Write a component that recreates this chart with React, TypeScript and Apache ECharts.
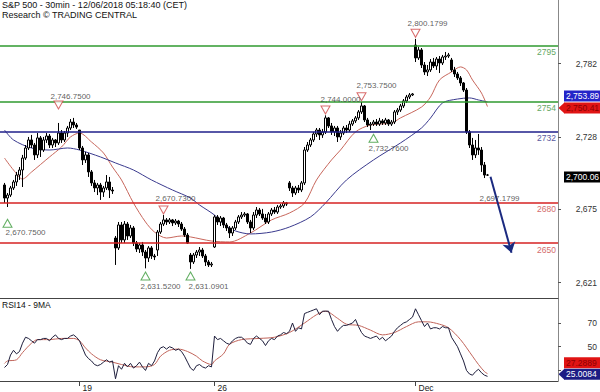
import React, { useEffect, useRef } from 'react';
import * as echarts from 'echarts';

const FONT = '"Liberation Sans", Arial, sans-serif';

// x slots (30-min bars); date ticks sit on the first bar of the day
const SLOTS = 186;
const FIRST_BAR = 1;
const dateTickIndex = [26, 71, 138];
const dateTickLabels = ['19', '26', 'Dec'];

const priceTicks = [2621, 2675, 2728, 2782];
const rsiTicks = [30, 50, 70];
const rsiLabelTicks = [50, 70];

// [open, close, low, high] — one row per 30-min bar, starting at slot FIRST_BAR
const candles = [
  [2692.8, 2683.2, 2679.6, 2694.3], [2683.2, 2685.4, 2676.6, 2686.9], [2685.4, 2690.6, 2684.0, 2692.1],
  [2690.6, 2695.0, 2689.1, 2696.5], [2695.0, 2700.1, 2692.1, 2702.4], [2700.1, 2703.8, 2696.5, 2706.0],
  [2703.8, 2712.6, 2691.3, 2714.9], [2712.6, 2720.0, 2711.2, 2722.2], [2720.0, 2725.9, 2718.5, 2728.1],
  [2725.9, 2722.2, 2720.0, 2729.6], [2722.2, 2714.9, 2711.2, 2723.7], [2714.9, 2727.4, 2712.6, 2731.0],
  [2727.4, 2718.5, 2713.4, 2728.8], [2718.5, 2725.9, 2717.1, 2728.1], [2725.9, 2728.8, 2723.7, 2731.0],
  [2728.8, 2722.2, 2720.0, 2730.3], [2722.2, 2725.9, 2720.0, 2727.4], [2725.9, 2723.7, 2720.7, 2726.6],
  [2723.7, 2731.0, 2722.2, 2738.4], [2731.0, 2725.9, 2723.7, 2733.2], [2725.9, 2731.0, 2724.4, 2732.5],
  [2731.0, 2734.7, 2728.1, 2736.2], [2734.7, 2739.1, 2733.2, 2741.3], [2739.1, 2736.9, 2734.7, 2742.1],
  [2736.9, 2735.4, 2734.0, 2738.4], [2733.2, 2720.0, 2718.5, 2733.2], [2720.0, 2711.2, 2707.5, 2721.5],
  [2711.2, 2714.9, 2709.0, 2717.1], [2714.9, 2702.4, 2698.7, 2716.3], [2702.4, 2694.3, 2692.1, 2703.8],
  [2694.3, 2690.6, 2687.6, 2696.5], [2690.6, 2692.8, 2685.4, 2694.3], [2692.8, 2687.6, 2681.8, 2694.3],
  [2687.6, 2690.6, 2684.0, 2692.1], [2690.6, 2695.0, 2689.1, 2700.1], [2695.0, 2689.1, 2683.2, 2698.7],
  [2689.1, 2688.4, 2686.2, 2691.3], [2653.8, 2646.5, 2634.0, 2655.3], [2646.5, 2663.4, 2645.0, 2665.6],
  [2663.4, 2652.4, 2650.1, 2665.6], [2652.4, 2664.1, 2650.1, 2666.3], [2664.1, 2655.3, 2652.4, 2665.6],
  [2655.3, 2661.2, 2653.8, 2663.4], [2661.2, 2650.1, 2647.9, 2662.6], [2650.1, 2645.7, 2643.5, 2651.6],
  [2645.7, 2648.7, 2642.8, 2650.1], [2648.7, 2643.5, 2640.6, 2650.9], [2643.5, 2639.1, 2631.5, 2645.0],
  [2639.1, 2646.5, 2636.2, 2647.9], [2646.5, 2640.6, 2638.4, 2647.9], [2640.6, 2639.9, 2637.6, 2642.1],
  [2645.0, 2658.2, 2640.6, 2659.7], [2658.2, 2664.1, 2656.8, 2665.6], [2664.1, 2667.1, 2662.6, 2670.7],
  [2667.1, 2665.6, 2663.4, 2668.5], [2665.6, 2667.1, 2664.1, 2668.5], [2667.1, 2664.9, 2662.6, 2667.8],
  [2664.9, 2666.3, 2663.4, 2667.8], [2666.3, 2664.1, 2661.9, 2667.1], [2664.1, 2660.4, 2659.0, 2665.6],
  [2660.4, 2656.0, 2654.6, 2661.9], [2656.0, 2650.1, 2649.4, 2657.5], [2641.3, 2636.2, 2631.1, 2642.8],
  [2636.2, 2641.3, 2634.7, 2642.8], [2641.3, 2643.5, 2639.1, 2645.0], [2643.5, 2645.0, 2640.6, 2647.2],
  [2645.0, 2640.6, 2639.1, 2646.5], [2640.6, 2636.2, 2633.2, 2642.1], [2636.2, 2634.0, 2632.5, 2637.6],
  [2634.0, 2634.7, 2632.5, 2636.2], [2647.2, 2669.3, 2646.5, 2670.7], [2669.3, 2665.6, 2663.4, 2670.7],
  [2665.6, 2668.5, 2662.6, 2670.0], [2668.5, 2663.4, 2661.2, 2669.3], [2663.4, 2661.2, 2659.0, 2664.9],
  [2661.2, 2657.5, 2653.8, 2662.6], [2657.5, 2661.2, 2655.3, 2662.6], [2661.2, 2665.6, 2659.7, 2667.1],
  [2665.6, 2669.3, 2664.1, 2670.7], [2669.3, 2670.7, 2667.8, 2672.9], [2670.7, 2671.5, 2669.3, 2672.9],
  [2671.5, 2665.6, 2664.1, 2672.2], [2665.6, 2661.2, 2657.5, 2667.1], [2661.2, 2670.7, 2659.7, 2672.9],
  [2670.7, 2674.4, 2668.5, 2676.6], [2674.4, 2671.5, 2670.0, 2675.9], [2671.5, 2668.5, 2667.1, 2675.2],
  [2668.5, 2665.6, 2664.1, 2671.5], [2665.6, 2671.5, 2664.1, 2672.9], [2671.5, 2674.4, 2670.0, 2675.9],
  [2674.4, 2672.9, 2671.5, 2676.6], [2672.9, 2676.6, 2671.5, 2678.1], [2676.6, 2677.4, 2675.2, 2678.8],
  [2677.4, 2679.6, 2675.9, 2681.0], [2679.6, 2678.8, 2677.4, 2680.3], [2694.3, 2690.6, 2688.4, 2695.7],
  [2690.6, 2686.9, 2684.0, 2692.1], [2686.9, 2690.6, 2685.4, 2692.1], [2690.6, 2689.1, 2686.9, 2692.8],
  [2689.1, 2694.3, 2687.6, 2695.7], [2694.3, 2718.5, 2692.8, 2720.7], [2718.5, 2722.2, 2717.1, 2724.4],
  [2722.2, 2725.9, 2720.7, 2727.4], [2725.9, 2730.3, 2724.4, 2731.8], [2730.3, 2733.2, 2728.1, 2734.7],
  [2733.2, 2729.6, 2725.9, 2734.7], [2729.6, 2731.8, 2727.4, 2734.0], [2731.8, 2742.1, 2730.3, 2744.0],
  [2742.1, 2736.2, 2734.7, 2742.8], [2736.2, 2731.8, 2729.6, 2738.4], [2731.8, 2734.7, 2728.8, 2736.2],
  [2734.7, 2728.1, 2724.4, 2736.2], [2728.1, 2731.0, 2725.9, 2733.2], [2731.0, 2734.7, 2729.6, 2736.2],
  [2734.7, 2733.2, 2731.0, 2736.9], [2733.2, 2737.6, 2731.8, 2739.9], [2737.6, 2739.9, 2736.2, 2741.3],
  [2739.9, 2742.1, 2738.4, 2743.5], [2742.1, 2746.5, 2740.6, 2747.9], [2746.5, 2750.9, 2745.0, 2753.8],
  [2750.9, 2740.6, 2739.1, 2751.6], [2740.6, 2736.9, 2735.4, 2742.1], [2736.9, 2737.6, 2733.2, 2739.1],
  [2737.6, 2739.1, 2736.2, 2740.6], [2739.1, 2737.6, 2736.2, 2741.3], [2737.6, 2739.9, 2736.2, 2742.1],
  [2739.9, 2738.4, 2736.9, 2741.3], [2738.4, 2740.6, 2736.9, 2742.1], [2740.6, 2737.6, 2736.2, 2741.3],
  [2737.6, 2739.1, 2736.2, 2740.6], [2739.1, 2746.5, 2737.6, 2747.9], [2746.5, 2747.9, 2744.3, 2749.4],
  [2747.9, 2750.9, 2746.5, 2752.4], [2750.9, 2754.6, 2749.4, 2756.0], [2754.6, 2757.5, 2753.1, 2759.0],
  [2757.5, 2759.0, 2756.0, 2760.4], [2759.0, 2759.7, 2758.2, 2760.4], [2795.7, 2786.2, 2783.2, 2800.2],
  [2786.2, 2792.1, 2784.7, 2794.3], [2792.1, 2781.0, 2778.8, 2793.5], [2781.0, 2775.9, 2773.7, 2783.2],
  [2775.9, 2777.4, 2772.9, 2781.0], [2777.4, 2783.2, 2775.9, 2785.4], [2783.2, 2780.3, 2778.8, 2786.2],
  [2780.3, 2785.4, 2777.4, 2786.9], [2785.4, 2782.5, 2775.1, 2787.6], [2782.5, 2786.9, 2781.0, 2788.4],
  [2786.9, 2787.6, 2784.7, 2790.6], [2787.6, 2788.4, 2786.2, 2789.9], [2784.7, 2777.4, 2775.9, 2786.2],
  [2777.4, 2774.4, 2772.2, 2779.6], [2774.4, 2771.5, 2770.0, 2775.9], [2771.5, 2767.8, 2765.6, 2772.9],
  [2767.8, 2762.6, 2761.2, 2768.5], [2762.6, 2731.8, 2730.3, 2764.1], [2731.8, 2722.2, 2720.0, 2733.2],
  [2722.2, 2714.9, 2711.2, 2727.4], [2714.9, 2720.0, 2712.6, 2725.9], [2720.0, 2718.5, 2714.9, 2730.3],
  [2718.5, 2707.5, 2702.4, 2720.7], [2707.5, 2700.1, 2697.9, 2709.7], [2700.1, 2700.06, 2699.4, 2700.9],
];

// moving averages: [slot, value]
const redMA = [
  [1, 2712.6], [4, 2703.8], [7, 2697.2], [10, 2702.3], [16, 2713.4], [20, 2720.7], [23, 2728.1], [26, 2731.0],
  [30, 2724.4], [34, 2716.3], [37, 2706.0], [40, 2696.5], [44, 2679.5], [48, 2665.6], [51, 2658.2], [55, 2653.8],
  [60, 2655.3], [63, 2654.6], [70, 2651.6], [76, 2650.9], [83, 2657.5], [90, 2667.1], [96, 2672.2], [101, 2679.5],
  [105, 2696.5], [110, 2711.2], [113, 2718.5], [118, 2731.8], [123, 2736.9], [130, 2738.4], [133, 2742.1],
  [140, 2750.1], [143, 2757.5], [146, 2770.0], [150, 2775.9], [153, 2779.6], [155, 2777.4], [157, 2770.0],
  [160, 2760.4], [162, 2750.41],
];
const blueMA = [
  [1, 2733.2], [4, 2725.9], [10, 2720.0], [16, 2718.5], [22, 2720.0], [26, 2718.5], [33, 2713.4], [38, 2709.0],
  [44, 2703.8], [50, 2696.5], [57, 2689.1], [63, 2683.2], [66, 2678.1], [71, 2670.7], [74, 2664.1], [78, 2659.0],
  [83, 2656.8], [90, 2658.2], [96, 2661.9], [103, 2669.3], [108, 2679.5], [115, 2696.5], [124, 2711.2],
  [133, 2723.7], [140, 2734.7], [143, 2742.0], [147, 2753.1], [152, 2756.0], [156, 2756.8], [159, 2755.3],
  [162, 2753.89],
];

// RSI(14), one value per bar starting at slot FIRST_BAR
const rsi = [
  32.5, 35, 43, 47, 44, 46, 53, 58, 57, 55, 53, 56, 56, 57, 57, 55, 58, 60, 57, 56,
  57, 57, 59, 60, 58, 55, 49, 43, 40, 38, 35, 34, 35, 37, 39, 37, 38, 23, 34, 31,
  36, 33, 36, 32, 34, 37, 33, 30, 36, 34, 38, 45, 49, 50, 48, 50, 49, 47, 48, 46,
  42, 37, 32, 30, 34, 35, 33, 32, 34, 33, 59, 56, 57, 55, 53, 52, 55, 57, 58, 58,
  56, 53, 52, 57, 59, 57, 55, 51, 55, 57, 56, 59, 60, 62, 61, 63, 70, 63, 66, 65,
  78, 79, 80, 81, 82, 77, 80, 80, 80, 73, 67, 63, 66, 68, 68, 69, 70, 73, 67, 62,
  59, 58, 57, 58, 59, 56, 58, 55, 57, 59, 63, 66, 68, 70, 71, 73, 75, 82, 77, 72,
  67, 70, 65, 66, 66, 65, 67, 66, 66, 58, 54, 50, 44, 38, 30, 27, 26, 29, 31, 28,
  26, 25.0084,
];
// 9-period MA of the RSI: [slot, value]
const rsiMA = [
  [1, 36], [2, 38], [5, 39], [7, 45], [10, 53], [12, 56], [16, 56], [20, 57], [24, 57], [26, 55], [28, 49],
  [30, 44], [33, 39], [37, 37], [40, 35], [44, 33], [48, 33], [51, 35], [53, 42], [56, 47], [59, 48], [62, 46],
  [65, 42], [67, 38], [70, 35], [71, 38], [74, 44], [76, 52], [80, 56], [86, 57], [91, 58], [96, 62], [101, 70],
  [105, 77], [108, 80], [112, 74], [115, 69], [119, 68], [123, 64], [127, 60], [131, 62], [135, 67], [139, 71],
  [142, 71], [146, 69], [149, 66], [153, 56], [157, 42], [159, 35], [161, 29], [162, 27.2889],
];

// support / resistance levels
const levelValues = [2795, 2754, 2732, 2680, 2650];
const levelKinds = ['res', 'res', 'pivot', 'sup', 'sup'];

// swing markers [slot, price]
const swingHighs = [[19, 2751.6], [54, 2674.4], [108, 2747.9], [120, 2757.7], [138, 2804.3]];
const swingLows = [[2, 2664.6], [48, 2625.9], [63, 2625.9], [124, 2727.1]];
const swingTexts = ['2,670.7500', '2,746.7500', '2,670.7300', '2,631.5200', '2,631.0901', '2,744.0000', '2,753.7500', '2,732.7600', '2,800.1799', '2,697.1799'];
const swingTextPos = [[8, 2657.5], [23, 2758.2], [58, 2682.5], [53, 2618.5], [69, 2618.5], [113, 2755.3], [125, 2765.6], [129, 2719.3], [142, 2811.7], [166, 2683.0]];

// projected move
const projection = [[163, 2698.9], [170, 2643]];

// last values shown on the right
const lastBlueMA = 2753.89;
const lastRedMA = 2750.41;
const lastClose = 2700.06;
const lastRsiMA = 27.2889;
const lastRsi = 25.0084;

const levelColor: Record<string, string> = { res: '#2f9a2f', pivot: '#1f1f8a', sup: '#d62222' };
const levelLabelColor: Record<string, string> = { res: '#64a864', pivot: '#5a5aa0', sup: '#d46c6c' };

export default function App() {
  const ref = useRef<HTMLDivElement>(null);
  useEffect(() => {
    if (!ref.current) return;
    const chart = echarts.init(ref.current, undefined, { renderer: 'svg' });
    const categories = Array.from({ length: SLOTS }, (_, i) => 'b' + i);
    const isDateTick = (i: number) => dateTickIndex.includes(i);

    const option: any = {
      animation: false,
      backgroundColor: '#ffffff',
      textStyle: { fontFamily: FONT },
      title: [
        {
          text: 'S&P 500 - 30min - 12/06/2018 05:18:40 (CET)',
          subtext: 'Research © TRADING CENTRAL',
          left: 2, top: 0, padding: 0, itemGap: 1,
          textStyle: { fontSize: 9, fontWeight: 'normal', color: '#111', fontFamily: FONT },
          subtextStyle: { fontSize: 9, color: '#111', fontFamily: FONT },
        },
        {
          text: 'RSI14 - 9MA', left: 2, top: 300, padding: 0,
          textStyle: { fontSize: 8.5, fontWeight: 'normal', color: '#111', fontFamily: FONT },
        },
      ],
      grid: [
        { left: 0, right: 42, top: 0, height: 298 },
        { left: 0, right: 42, top: 298, height: 84 },
      ],
      xAxis: [
        {
          type: 'category', gridIndex: 0, data: categories, boundaryGap: true,
          axisLine: { show: true, lineStyle: { color: '#444', width: 1 } },
          axisTick: { show: false }, axisLabel: { show: false }, splitLine: { show: false },
        },
        {
          type: 'category', gridIndex: 1, data: categories, boundaryGap: true,
          axisLine: { show: true, lineStyle: { color: '#444', width: 1 } },
          axisTick: { show: true, interval: (i: number) => isDateTick(i), alignWithLabel: true, length: 5, lineStyle: { color: '#444' } },
          axisLabel: {
            interval: (i: number) => isDateTick(i),
            formatter: (_v: string, i: number) => dateTickLabels[dateTickIndex.indexOf(i)] ?? '',
            align: 'left', margin: 2, padding: [0, 0, 0, 3], fontSize: 8.5, color: '#222', fontFamily: FONT,
          },
          splitLine: { show: false },
        },
      ],
      yAxis: [
        {
          type: 'value', gridIndex: 0, position: 'right', min: 2609.7, max: 2828.8, scale: true,
          axisLine: { show: true, lineStyle: { color: '#888' } },
          axisTick: { show: true, length: 3, customValues: priceTicks, lineStyle: { color: '#555' } },
          axisLabel: {
            customValues: priceTicks, formatter: (v: number) => v.toLocaleString('en-US'),
            align: 'right', margin: 39, fontSize: 8.5, color: '#333', fontFamily: FONT,
          },
          splitLine: { show: false },
        },
        {
          type: 'value', gridIndex: 1, position: 'right', min: 21.1, max: 91.1,
          axisLine: { show: true, lineStyle: { color: '#888' } },
          axisTick: { show: true, length: 3, customValues: rsiTicks, lineStyle: { color: '#555' } },
          axisLabel: {
            customValues: rsiLabelTicks, align: 'right', margin: 39, fontSize: 8.5, color: '#333', fontFamily: FONT,
          },
          splitLine: { show: false },
        },
      ],
      series: [
        {
          type: 'candlestick', xAxisIndex: 0, yAxisIndex: 0,
          data: candles.map((c, k) => [k + FIRST_BAR, ...c]),
          encode: { x: 0, y: [1, 2, 3, 4] },
          barWidth: 2,
          itemStyle: { color: '#ffffff', color0: '#000000', borderColor: '#000000', borderColor0: '#000000', borderWidth: 1 },
          z: 3,
          markLine: {
            silent: true, animation: false, symbol: ['none', 'none'], symbolSize: 10,
            data: [
              ...levelValues.map((v, k) => ({
                yAxis: v,
                lineStyle: { color: levelColor[levelKinds[k]], width: 1.6, type: 'solid' },
                label: {
                  show: true, position: 'insideEndBottom', formatter: String(v), distance: 2,
                  color: levelLabelColor[levelKinds[k]], fontSize: 8.5, fontFamily: FONT,
                },
              })),
              [
                { coord: projection[0], symbol: 'none', lineStyle: { color: '#1b2a80', width: 2, type: 'solid' }, label: { show: false } },
                { coord: projection[1], symbol: 'arrow', symbolSize: 10, lineStyle: { color: '#1b2a80', width: 2, type: 'solid' }, label: { show: false } },
              ],
            ],
          },
        },
        {
          type: 'line', xAxisIndex: 0, yAxisIndex: 0, data: redMA, smooth: 0.3, symbol: 'none',
          lineStyle: { color: '#c8675c', width: 1 }, z: 2,
        },
        {
          type: 'line', xAxisIndex: 0, yAxisIndex: 0, data: blueMA, smooth: 0.3, symbol: 'none',
          lineStyle: { color: '#3a3a8e', width: 1 }, z: 2,
        },
        {
          type: 'scatter', xAxisIndex: 0, yAxisIndex: 0, data: swingLows, symbol: 'triangle', symbolSize: [9, 8],
          itemStyle: { color: '#ffffff', borderColor: '#3a9a3a', borderWidth: 1 }, z: 5,
        },
        {
          type: 'scatter', xAxisIndex: 0, yAxisIndex: 0, data: swingHighs, symbol: 'triangle', symbolRotate: 180, symbolSize: [9, 8],
          itemStyle: { color: '#ffffff', borderColor: '#d04848', borderWidth: 1 }, z: 5,
        },
        {
          type: 'scatter', xAxisIndex: 0, yAxisIndex: 0, data: swingTextPos, symbolSize: 1,
          itemStyle: { color: 'transparent' }, z: 6,
          label: {
            show: true, position: 'inside', formatter: (p: any) => swingTexts[p.dataIndex],
            fontSize: 8, color: '#333', fontFamily: FONT,
          },
        },
        {
          type: 'line', xAxisIndex: 1, yAxisIndex: 1, data: rsi.map((v, k) => [k + FIRST_BAR, v]), symbol: 'none',
          lineStyle: { color: '#1e1e3c', width: 1 }, z: 3,
        },
        {
          type: 'line', xAxisIndex: 1, yAxisIndex: 1, data: rsiMA, smooth: 0.3, symbol: 'none',
          lineStyle: { color: '#c0645a', width: 1 }, z: 2,
        },
      ],
    };
    chart.setOption(option);

    const boxes = [
      { axis: 0, value: lastBlueMA, text: '2,753.89', fill: '#2424c8', color: '#ffffff', shift: -6, pointer: false },
      { axis: 0, value: lastRedMA, text: '2,750.41', fill: '#e01414', color: '#8c0000', shift: 1.5, pointer: true },
      { axis: 0, value: lastClose, text: '2,700.06', fill: '#000000', color: '#ffffff', shift: 2, pointer: false },
      { axis: 1, value: lastRsiMA, text: '27.2889', fill: '#e01414', color: '#8c0000', shift: -11, pointer: false },
      { axis: 1, value: lastRsi, text: '25.0084', fill: '#1c1c84', color: '#ffffff', shift: -2, pointer: true },
    ];
    const graphic = boxes.map((b) => {
      const c = (chart.convertToPixel({ yAxisIndex: b.axis } as any, b.value) as number) + b.shift;
      const children: any[] = [
        { type: 'rect', shape: { x: 564, y: c - 5.5, width: 44, height: 11 }, style: { fill: b.fill } },
        { type: 'text', x: 566, y: c, style: { text: b.text, fill: b.color, fontSize: 8.5, fontFamily: FONT, verticalAlign: 'middle', align: 'left' } },
      ];
      if (b.pointer) {
        children.unshift({ type: 'polygon', shape: { points: [[558.5, c], [564.5, c - 5.5], [564.5, c + 5.5]] }, style: { fill: b.fill } });
      }
      return { type: 'group', z: 10, children };
    });
    chart.setOption({ graphic });

    return () => chart.dispose();
  }, []);
  return <div ref={ref} style={{ position: 'absolute', left: 0, top: 0, width: 600, height: 392 }} />;
}
